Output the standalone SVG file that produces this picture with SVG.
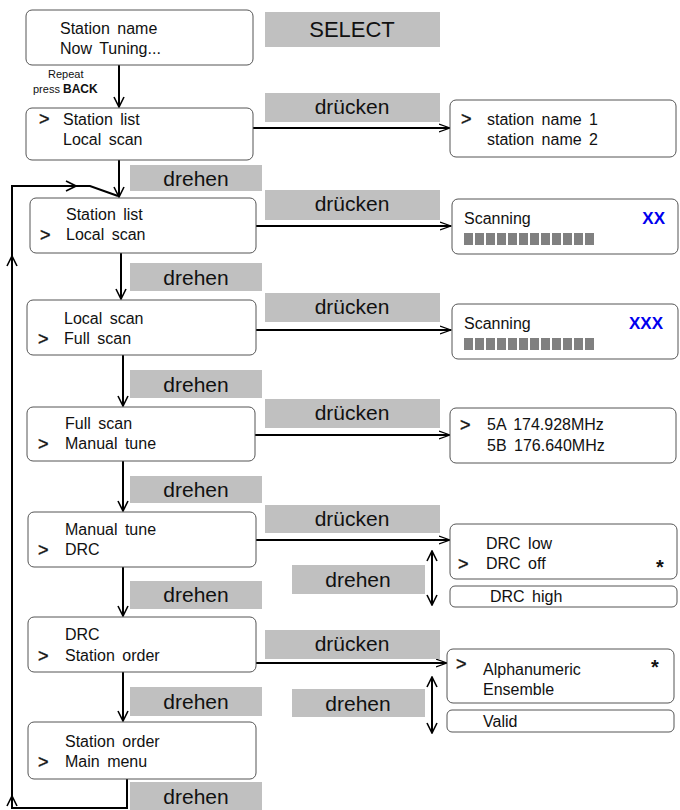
<svg xmlns="http://www.w3.org/2000/svg" width="680" height="810" viewBox="0 0 680 810">
<defs>
<marker id="ah" viewBox="0 0 12 10" refX="11" refY="5" markerWidth="12" markerHeight="10" markerUnits="userSpaceOnUse" orient="auto">
<path d="M0,1 L11,5 L0,9" fill="none" stroke="#000" stroke-width="1.3"/>
</marker>
<marker id="av" viewBox="0 0 12 12" refX="11" refY="6" markerWidth="12" markerHeight="12" markerUnits="userSpaceOnUse" orient="auto">
<path d="M1,1 L11,6 L1,11" fill="none" stroke="#000" stroke-width="1.6"/>
</marker>
<marker id="as" viewBox="0 0 12 12" refX="11" refY="6" markerWidth="12" markerHeight="12" markerUnits="userSpaceOnUse" orient="auto-start-reverse">
<path d="M1,1 L11,6 L1,11" fill="none" stroke="#000" stroke-width="1.6"/>
</marker>
</defs>
<style>
.box{fill:#fff;stroke:#555;stroke-width:1}
.lbl{fill:#c0c0c0}
.t{font-family:"Liberation Sans",Arial,sans-serif;font-size:16px;fill:#111;word-spacing:3px}
.g{font-family:"Liberation Sans",Arial,sans-serif;font-size:18px;fill:#111;stroke:#111;stroke-width:0.4}
.lt{font-family:"Liberation Sans",Arial,sans-serif;font-size:21px;fill:#111;text-anchor:middle}
.blue{font-family:"Liberation Sans",Arial,sans-serif;font-size:17px;font-weight:bold;fill:#0000ee;text-anchor:end}
.star{font-family:"Liberation Sans",Arial,sans-serif;font-size:20px;font-weight:bold;fill:#111;text-anchor:middle}
.bar{fill:#808080}
.c{fill:none;stroke:#000;stroke-width:2}
.h{fill:none;stroke:#000;stroke-width:2;marker-end:url(#ah)}
.v{fill:none;stroke:#000;stroke-width:2;marker-end:url(#av)}
</style>
<rect width="680" height="810" fill="#fff"/>

<g id="connectors">
<path class="v" d="M119,65 V107"/>
<path class="h" d="M253,128 H450"/>
<path class="v" d="M119,160 V197"/>
<path class="c" d="M127,779 V808 H12 V186 H90 L118,196"/>
<path class="c" d="M12,268 L12,256" marker-end="url(#av)"/>
<path class="c" d="M12,806 L12,796" marker-end="url(#av)"/>
<path class="c" d="M60,186 L76,186" marker-end="url(#av)"/>
<path class="h" d="M256,226 H451"/>
<path class="v" d="M121,253 V299"/>
<path class="h" d="M256,330 H451"/>
<path class="v" d="M123,355 V406"/>
<path class="h" d="M255,435 H450"/>
<path class="v" d="M123,461 V511"/>
<path class="h" d="M256,540 H450"/>
<path class="c" d="M432,551 V605" marker-start="url(#as)" marker-end="url(#as)"/>
<path class="v" d="M123,567 V616"/>
<path class="h" d="M256,663 H447"/>
<path class="c" d="M432,677 V733" marker-start="url(#as)" marker-end="url(#as)"/>
<path class="v" d="M123,672 V721"/>
</g>

<g id="n-select"><rect class="lbl" x="265" y="12" width="175" height="35"/><text class="lt" x="352" y="37" style="font-size:22px">SELECT</text></g>

<g id="n1"><rect class="box" x="26" y="10" width="227" height="55" rx="6"/>
<text class="t" x="60" y="34">Station name</text><text class="t" x="60" y="54">Now Tuning...</text></g>
<g id="n-repeat"><text x="48" y="78" style="font-family:'Liberation Sans',Arial,sans-serif;font-size:11px;fill:#111">Repeat</text>
<text x="33" y="93" style="font-family:'Liberation Sans',Arial,sans-serif;font-size:11px;fill:#111">press <tspan style="font-weight:bold;font-size:12px">BACK</tspan></text></g>

<g id="n2"><rect class="box" x="26" y="108" width="227" height="52" rx="6"/>
<text class="g" x="39" y="125">&gt;</text><text class="t" x="63" y="125">Station list</text><text class="t" x="63" y="145">Local scan</text></g>
<g id="l2"><rect class="lbl" x="265" y="93" width="175" height="29"/><text class="lt" x="352" y="114">drücken</text></g>
<g id="r2"><rect class="box" x="450" y="100" width="226" height="57" rx="6"/>
<text class="g" x="461" y="125">&gt;</text><text class="t" x="487" y="125">station name 1</text><text class="t" x="487" y="145">station name 2</text></g>

<g id="d3"><rect class="lbl" x="130" y="165" width="132" height="26"/><text class="lt" x="196" y="186">drehen</text></g>
<g id="n3"><rect class="box" x="30" y="198" width="226" height="55" rx="6"/>
<text class="t" x="66" y="220">Station list</text><text class="g" x="40" y="241">&gt;</text><text class="t" x="66" y="240">Local scan</text></g>
<g id="l3"><rect class="lbl" x="265" y="190" width="175" height="30"/><text class="lt" x="352" y="211">drücken</text></g>
<g id="r3"><rect class="box" x="452" y="199" width="226" height="55" rx="6"/>
<text class="t" x="464" y="224">Scanning</text><text class="blue" x="665" y="224">XX</text>
<g class="bar">
<rect x="464" y="233" width="9" height="12"/><rect x="475" y="233" width="9" height="12"/><rect x="486" y="233" width="9" height="12"/><rect x="497" y="233" width="9" height="12"/><rect x="508" y="233" width="9" height="12"/><rect x="519" y="233" width="9" height="12"/><rect x="530" y="233" width="9" height="12"/><rect x="541" y="233" width="9" height="12"/><rect x="552" y="233" width="9" height="12"/><rect x="563" y="233" width="9" height="12"/><rect x="574" y="233" width="9" height="12"/><rect x="585" y="233" width="9" height="12"/>
</g></g>

<g id="d4"><rect class="lbl" x="130" y="263" width="132" height="28"/><text class="lt" x="196" y="285">drehen</text></g>
<g id="n4"><rect class="box" x="27" y="300" width="229" height="55" rx="6"/>
<text class="t" x="64" y="324">Local scan</text><text class="g" x="38" y="345">&gt;</text><text class="t" x="64" y="344">Full scan</text></g>
<g id="l4"><rect class="lbl" x="265" y="293" width="175" height="29"/><text class="lt" x="352" y="314">drücken</text></g>
<g id="r4"><rect class="box" x="452" y="304" width="226" height="55" rx="6"/>
<text class="t" x="464" y="329">Scanning</text><text class="blue" x="663" y="329">XXX</text>
<g class="bar">
<rect x="464" y="338" width="9" height="12"/><rect x="475" y="338" width="9" height="12"/><rect x="486" y="338" width="9" height="12"/><rect x="497" y="338" width="9" height="12"/><rect x="508" y="338" width="9" height="12"/><rect x="519" y="338" width="9" height="12"/><rect x="530" y="338" width="9" height="12"/><rect x="541" y="338" width="9" height="12"/><rect x="552" y="338" width="9" height="12"/><rect x="563" y="338" width="9" height="12"/><rect x="574" y="338" width="9" height="12"/><rect x="585" y="338" width="9" height="12"/>
</g></g>

<g id="d5"><rect class="lbl" x="130" y="370" width="132" height="28"/><text class="lt" x="196" y="392">drehen</text></g>
<g id="n5"><rect class="box" x="27" y="407" width="228" height="54" rx="6"/>
<text class="t" x="65" y="429">Full scan</text><text class="g" x="38" y="450">&gt;</text><text class="t" x="65" y="449">Manual tune</text></g>
<g id="l5"><rect class="lbl" x="265" y="399" width="175" height="29"/><text class="lt" x="352" y="420">drücken</text></g>
<g id="r5"><rect class="box" x="450" y="408" width="226" height="55" rx="6"/>
<text class="g" x="460" y="431">&gt;</text><text class="t" x="487" y="430">5A 174.928MHz</text><text class="t" x="487" y="451">5B 176.640MHz</text></g>

<g id="d6"><rect class="lbl" x="130" y="476" width="132" height="27"/><text class="lt" x="196" y="497">drehen</text></g>
<g id="n6"><rect class="box" x="28" y="512" width="228" height="55" rx="6"/>
<text class="t" x="65" y="535">Manual tune</text><text class="g" x="38" y="556">&gt;</text><text class="t" x="65" y="555">DRC</text></g>
<g id="l6"><rect class="lbl" x="265" y="505" width="175" height="28"/><text class="lt" x="352" y="526">drücken</text></g>
<g id="r6"><rect class="box" x="450" y="524" width="227" height="55" rx="6"/>
<text class="t" x="486" y="549">DRC low</text><text class="g" x="458" y="570">&gt;</text><text class="t" x="486" y="569">DRC off</text><text class="star" x="660" y="574">*</text></g>
<g id="r6b"><rect class="box" x="450" y="586" width="227" height="21" rx="5"/><text class="t" x="490" y="602">DRC high</text></g>
<g id="d6b"><rect class="lbl" x="292" y="565" width="133" height="29"/><text class="lt" x="358" y="587">drehen</text></g>

<g id="d7"><rect class="lbl" x="130" y="581" width="132" height="28"/><text class="lt" x="196" y="602">drehen</text></g>
<g id="n7"><rect class="box" x="28" y="617" width="228" height="55" rx="6"/>
<text class="t" x="65" y="640">DRC</text><text class="g" x="38" y="662">&gt;</text><text class="t" x="65" y="661">Station order</text></g>
<g id="l7"><rect class="lbl" x="265" y="630" width="175" height="29"/><text class="lt" x="352" y="651">drücken</text></g>
<g id="r7"><rect class="box" x="447" y="649" width="227" height="54" rx="6"/>
<text class="g" x="456" y="670">&gt;</text><text class="t" x="483" y="675">Alphanumeric</text><text class="t" x="483" y="695">Ensemble</text><text class="star" x="655" y="674">*</text></g>
<g id="r7b"><rect class="box" x="447" y="710" width="227" height="22" rx="5"/><text class="t" x="483" y="727">Valid</text></g>
<g id="d7b"><rect class="lbl" x="292" y="689" width="133" height="28"/><text class="lt" x="358" y="711">drehen</text></g>

<g id="d8"><rect class="lbl" x="130" y="687" width="132" height="29"/><text class="lt" x="196" y="709">drehen</text></g>
<g id="n8"><rect class="box" x="28" y="722" width="228" height="57" rx="6"/>
<text class="t" x="65" y="747">Station order</text><text class="g" x="38" y="768">&gt;</text><text class="t" x="65" y="767">Main menu</text></g>
<g id="d9"><rect class="lbl" x="130" y="782" width="132" height="28"/><text class="lt" x="196" y="804">drehen</text></g>
</svg>
